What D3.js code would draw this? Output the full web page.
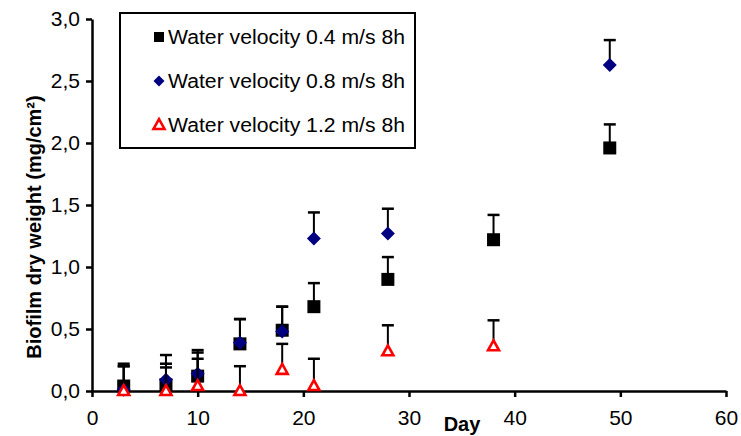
<!DOCTYPE html>
<html>
<head>
<meta charset="utf-8">
<script src="https://cdn.jsdelivr.net/npm/d3@7"></script>
<style>
  html, body { margin: 0; padding: 0; background: #fff; }
  svg { display: block; font-family: "Liberation Sans", Arial, sans-serif; }
</style>
</head>
<body>
<svg id="chart" width="741" height="436"></svg>
<script>
// Biofilm dry weight over time at three water velocities (mean + SD)
const xTicks = [0, 10, 20, 30, 40, 50, 60];
const yTicks = [0, 0.5, 1.0, 1.5, 2.0, 2.5, 3.0];

const days04 = [3, 7, 10, 14, 18, 21, 28, 38, 49];
const mean04 = [0.04, 0.05, 0.12, 0.38, 0.49, 0.68, 0.90, 1.22, 1.96];
const sd04   = [0.18, 0.17, 0.21, 0.20, 0.19, 0.19, 0.18, 0.20, 0.19];

const days08 = [3, 7, 10, 14, 18, 21, 28, 49];
const mean08 = [0.01, 0.09, 0.14, 0.39, 0.48, 1.23, 1.27, 2.63];
const sd08   = [0.19, 0.20, 0.17, 0.19, 0.20, 0.21, 0.20, 0.20];

const days12 = [3, 7, 10, 14, 18, 21, 28, 38];
const mean12 = [0.00, 0.00, 0.04, 0.00, 0.17, 0.04, 0.32, 0.36];
const sd12   = [0.20, 0.19, 0.22, 0.20, 0.21, 0.22, 0.21, 0.21];

const legendLabels = [
  "Water velocity 0.4 m/s 8h",
  "Water velocity 0.8 m/s 8h",
  "Water velocity 1.2 m/s 8h"
];

const svg = d3.select("#chart");
const plot = { left: 92, right: 726, top: 19, bottom: 391 };

const x = d3.scaleLinear().domain([0, 60]).range([plot.left, plot.right]);
const y = d3.scaleLinear().domain([0, 3]).range([plot.bottom, plot.top]);
const fmt = d => d3.format(".1f")(d).replace(".", ",");

// axes
const xAxis = svg.append("g")
  .attr("transform", `translate(0,${plot.bottom})`)
  .call(d3.axisBottom(x).tickValues(xTicks).tickSize(6).tickSizeOuter(0).tickPadding(13));
const yAxis = svg.append("g")
  .attr("transform", `translate(${plot.left},0)`)
  .call(d3.axisLeft(y).tickValues(yTicks).tickFormat(fmt).tickSize(6).tickSizeOuter(0).tickPadding(6));

[xAxis, yAxis].forEach(g => {
  g.select(".domain").attr("stroke", "#000").attr("stroke-width", 2.5);
  g.selectAll(".tick line").attr("stroke", "#000").attr("stroke-width", 2.5);
  g.selectAll(".tick text").attr("fill", "#000").style("font-size", "21px")
    .style("font-family", "'Liberation Sans', Arial, sans-serif");
});

svg.append("text")
  .attr("x", 462).attr("y", 431)
  .attr("text-anchor", "middle")
  .style("font-size", "20px").style("font-weight", "bold")
  .text("Day");

svg.append("text")
  .attr("transform", "translate(41,227) rotate(-90)")
  .attr("text-anchor", "middle")
  .style("font-size", "20px").style("font-weight", "bold")
  .text("Biofilm dry weight (mg/cm²)");

// series definitions built from the arrays above
const series = [
  { days: days04, mean: mean04, sd: sd04, shape: "square" },
  { days: days08, mean: mean08, sd: sd08, shape: "diamond" },
  { days: days12, mean: mean12, sd: sd12, shape: "triangle" }
];

function markerPath(shape, s) {
  if (shape === "square") return `M${-s/2},${-s/2}h${s}v${s}h${-s}Z`;
  if (shape === "diamond") return `M0,${-s/2}L${s/2},0L0,${s/2}L${-s/2},0Z`;
  const h = s * 0.9;
  return `M0,${-h*0.6}L${s/2},${h*0.4}L${-s/2},${h*0.4}Z`;
}

function drawMarker(g, shape, cx, cy, size) {
  const p = g.append("path")
    .attr("transform", `translate(${cx},${cy})`)
    .attr("d", markerPath(shape, size));
  if (shape === "square") p.attr("fill", "#000");
  else if (shape === "diamond") p.attr("fill", "#000080");
  else p.attr("fill", "#fff").attr("stroke", "#ff0000").attr("stroke-width", 2.6);
}

const sizes = { square: 13, diamond: 14, triangle: 11 };

series.forEach(s => {
  const g = svg.append("g");
  const pts = s.days.map((d, i) => ({ d, m: s.mean[i], e: s.sd[i] }));
  // upper error bars
  pts.forEach(p => {
    g.append("line")
      .attr("x1", x(p.d)).attr("x2", x(p.d))
      .attr("y1", y(p.m)).attr("y2", y(p.m + p.e))
      .attr("stroke", "#000").attr("stroke-width", 2);
    g.append("line")
      .attr("x1", x(p.d) - 6).attr("x2", x(p.d) + 6)
      .attr("y1", y(p.m + p.e)).attr("y2", y(p.m + p.e))
      .attr("stroke", "#000").attr("stroke-width", 2.5);
  });
  pts.forEach(p => drawMarker(g, s.shape, x(p.d), y(p.m), sizes[s.shape]));
});

// legend
const lg = svg.append("g");
lg.append("rect")
  .attr("x", 120).attr("y", 13).attr("width", 295).attr("height", 135)
  .attr("fill", "#fff").attr("stroke", "#000").attr("stroke-width", 2);
const legendShapes = ["square", "diamond", "triangle"];
const legendSizes = [10, 11, 11];
legendLabels.forEach((label, i) => {
  const cy = 36 + i * 44;
  drawMarker(lg, legendShapes[i], 159, cy + 1, legendSizes[i]);
  lg.append("text")
    .attr("x", 168).attr("y", cy + 8)
    .style("font-size", "19.5px")
    .attr("textLength", 237).attr("lengthAdjust", "spacingAndGlyphs")
    .text(label);
});
</script>
</body>
</html>
